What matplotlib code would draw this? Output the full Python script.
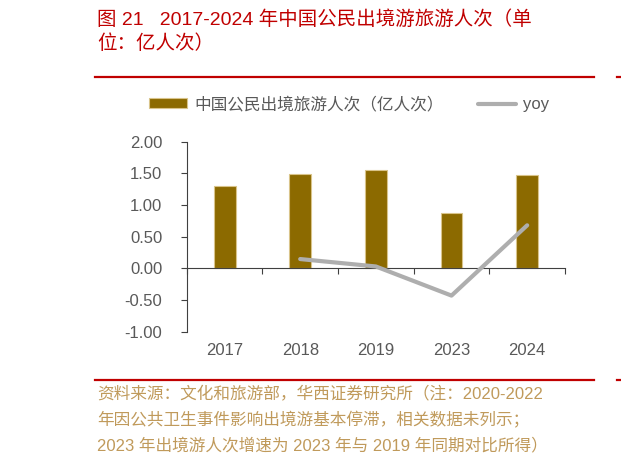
#!/usr/bin/env python3
"""Outbound trips by Chinese citizens, 2017-2024 (bars) with yoy line."""
import matplotlib
matplotlib.use("Agg")
import matplotlib.pyplot as plt
from matplotlib.lines import Line2D

years = ["2017", "2018", "2019", "2023", "2024"]
trips = [1.30, 1.49, 1.55, 0.87, 1.47]          # 亿人次
yoy = [None, 0.147, 0.03, -0.43, 0.68]
yticks = [-1.0, -0.5, 0.0, 0.5, 1.0, 1.5, 2.0]
ytick_labels = ["-1.00", "-0.50", "0.00", "0.50", "1.00", "1.50", "2.00"]

title_1 = "图 21   2017-2024 年中国公民出境游旅游人次（单"
title_2 = "位：亿人次）"
bar_label = "中国公民出境旅游人次（亿人次）"
line_label = "yoy"
note_lines = [
    "资料来源：文化和旅游部，华西证券研究所（注：2020-2022",
    "年因公共卫生事件影响出境游基本停滞，相关数据未列示；",
    "2023 年出境游人次增速为 2023 年与 2019 年同期对比所得）",
]

FONTS = ["Liberation Sans", "Noto Sans CJK SC"]
plt.rcParams["font.family"] = FONTS

RED = "#C00000"
BAR = "#8C6A00"
GREY_LINE = "#AEAEAE"
TEXT = "#595959"
NOTE = "#C09A5B"

W, H = 621, 462
fig = plt.figure(figsize=(W / 100, H / 100), dpi=100)
ax = fig.add_axes([186.7 / W, 1 - 331.7 / H, (565 - 186.7) / W, (331.7 - 141.7) / H])

x = list(range(len(years)))
bars = ax.bar(x, trips, width=0.29, color=BAR, edgecolor="#D9C48A",
              linewidth=0.8, zorder=2)
xs = [i for i, v in zip(x, yoy) if v is not None]
ys = [v for v in yoy if v is not None]
line, = ax.plot(xs, ys, color=GREY_LINE, lw=3, solid_capstyle="round", zorder=3)

ax.set_xlim(-0.5, len(years) - 0.5)
ax.set_ylim(-1, 2)
ax.set_yticks(yticks)
ax.set_yticklabels(ytick_labels)
ax.tick_params(axis="y", direction="out", length=4, width=0.8, color="#404040",
               labelsize=12, labelcolor=TEXT, pad=13.5)

for s in ("top", "right"):
    ax.spines[s].set_visible(False)
ax.spines["left"].set_color("#404040")
ax.spines["left"].set_linewidth(0.8)
ax.spines["bottom"].set_position(("data", 0))
ax.spines["bottom"].set_color("#404040")
ax.spines["bottom"].set_linewidth(0.8)
ax.set_xticks([i + 0.5 for i in range(-1, len(years))], minor=True)
ax.set_xticks([])
ax.tick_params(axis="x", which="minor", direction="out", length=4, width=0.8,
               color="#404040")

sec = ax.secondary_xaxis(0)
sec.set_xticks(x)
sec.set_xticklabels(years)
sec.spines["bottom"].set_visible(False)
sec.tick_params(length=0, labelsize=12, labelcolor=TEXT, pad=8)

handles = [bars.patches[0],
           Line2D([], [], color=GREY_LINE, lw=3, solid_capstyle="round")]
leg = fig.legend(handles, [bar_label, line_label], loc="center left",
                 bbox_to_anchor=(149 / W, 1 - 104 / H), ncol=2, frameon=False,
                 fontsize=12, labelcolor=TEXT, handlelength=2.3, handleheight=0.5,
                 handletextpad=0.45, columnspacing=2.0, borderaxespad=0,
                 borderpad=0)

fig.text(97 / W, 1 - 20 / H, title_1, color=RED, fontsize=14, va="center")
fig.text(97 / W, 1 - 44 / H, title_2, color=RED, fontsize=14, va="center")

for yy, txt in zip([394, 420, 445], note_lines):
    fig.text(97 / W, 1 - yy / H, txt, color=NOTE, fontsize=12, va="center")

for yy in (77, 380):
    fig.add_artist(Line2D([95 / W, 594 / W], [1 - yy / H] * 2, color=RED, lw=1.6))
    fig.add_artist(Line2D([617 / W, 1.0], [1 - yy / H] * 2, color=RED, lw=1.6))

fig.savefig("out.png", dpi=100)
plt.close(fig)
